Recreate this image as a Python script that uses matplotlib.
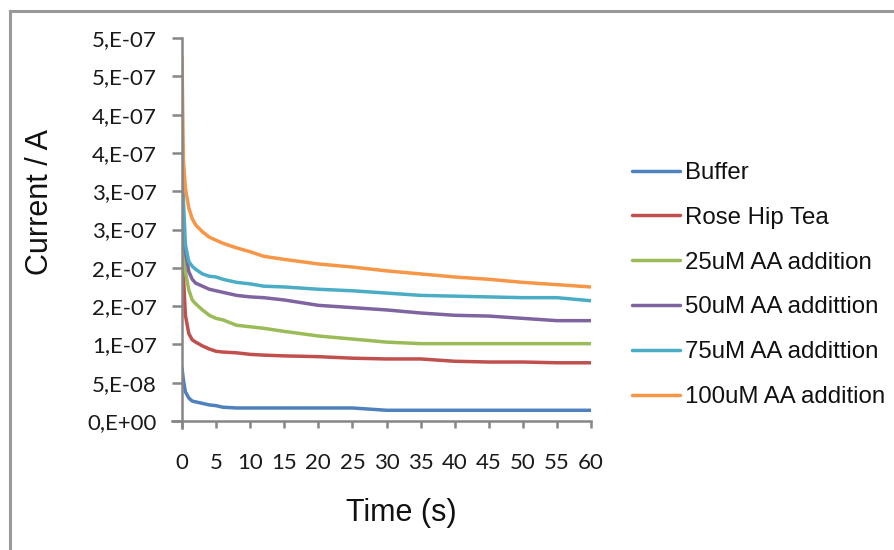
import matplotlib
matplotlib.use("Agg")
import matplotlib.pyplot as plt
from matplotlib.lines import Line2D

time_s = [0, 0.2, 0.5, 1, 1.5, 2, 3, 4, 5, 6, 8, 10, 12, 15, 20, 25, 30, 35, 40, 45, 50, 55, 60]

buffer = [6.9e-8, 5.4e-8, 3.8e-8, 3.0e-8, 2.6e-8, 2.5e-8, 2.3e-8, 2.1e-8, 2.0e-8, 1.8e-8,
          1.7e-8, 1.7e-8, 1.7e-8, 1.7e-8, 1.7e-8, 1.7e-8,
          1.4e-8, 1.4e-8, 1.4e-8, 1.4e-8, 1.4e-8, 1.4e-8, 1.4e-8]
rose_hip = [2.40e-7, 1.91e-7, 1.38e-7, 1.14e-7, 1.06e-7, 1.03e-7, 9.8e-8, 9.4e-8, 9.1e-8, 9.0e-8,
            8.9e-8, 8.7e-8, 8.6e-8, 8.5e-8, 8.4e-8, 8.2e-8, 8.1e-8, 8.1e-8, 7.8e-8, 7.7e-8,
            7.7e-8, 7.6e-8, 7.6e-8]
aa_25 = [2.95e-7, 2.30e-7, 1.95e-7, 1.71e-7, 1.58e-7, 1.53e-7, 1.45e-7, 1.38e-7, 1.34e-7, 1.32e-7,
         1.25e-7, 1.23e-7, 1.21e-7, 1.17e-7, 1.11e-7, 1.07e-7, 1.03e-7, 1.01e-7, 1.01e-7, 1.01e-7,
         1.01e-7, 1.01e-7, 1.01e-7]
aa_50 = [3.21e-7, 2.49e-7, 2.21e-7, 1.95e-7, 1.85e-7, 1.80e-7, 1.76e-7, 1.72e-7, 1.70e-7, 1.68e-7,
         1.64e-7, 1.62e-7, 1.61e-7, 1.58e-7, 1.51e-7, 1.48e-7, 1.45e-7, 1.41e-7, 1.38e-7, 1.37e-7,
         1.34e-7, 1.31e-7, 1.31e-7]
aa_75 = [3.71e-7, 2.89e-7, 2.30e-7, 2.08e-7, 2.02e-7, 1.98e-7, 1.92e-7, 1.89e-7, 1.88e-7, 1.85e-7,
         1.81e-7, 1.79e-7, 1.76e-7, 1.75e-7, 1.72e-7, 1.70e-7, 1.67e-7, 1.64e-7, 1.63e-7, 1.62e-7,
         1.61e-7, 1.61e-7, 1.57e-7]
aa_100 = [4.75e-7, 3.41e-7, 3.04e-7, 2.78e-7, 2.64e-7, 2.56e-7, 2.47e-7, 2.40e-7, 2.36e-7, 2.32e-7,
          2.26e-7, 2.21e-7, 2.15e-7, 2.11e-7, 2.05e-7, 2.01e-7, 1.96e-7, 1.92e-7, 1.88e-7, 1.85e-7,
          1.81e-7, 1.78e-7, 1.75e-7]

series_names = ["Buffer", "Rose Hip Tea", "25uM AA addition", "50uM AA addittion",
                "75uM AA addittion", "100uM AA addition"]
series_colors = ["#4F81BD", "#C0504D", "#9BBB59", "#8064A2", "#4BACC6", "#F79646"]

xticks = [0, 5, 10, 15, 20, 25, 30, 35, 40, 45, 50, 55, 60]
yticks = [0, 5e-8, 1e-7, 1.5e-7, 2e-7, 2.5e-7, 3e-7, 3.5e-7, 4e-7, 4.5e-7, 5e-7]
ytick_labels = ["0,E+00", "5,E-08", "1,E-07", "2,E-07", "2,E-07", "3,E-07",
                "3,E-07", "4,E-07", "4,E-07", "5,E-07", "5,E-07"]

W, H = 895, 550
fig = plt.figure(figsize=(W / 100, H / 100), dpi=100)
fig.patch.set_facecolor("white")

# outer chart-area border (runs off the right and bottom edges)
border = "#9a9a9a"
fig.add_artist(Line2D([10 / W, 1.0], [1 - 11 / H, 1 - 11 / H], color=border, lw=2.2,
                      transform=fig.transFigure))
fig.add_artist(Line2D([10 / W, 10 / W], [0.0, 1 - 11 / H], color=border, lw=2.2,
                      transform=fig.transFigure))

ax = fig.add_axes([182 / W, 1 - 421 / H, (591 - 182) / W, (421 - 38) / H])

all_series = [buffer, rose_hip, aa_25, aa_50, aa_75, aa_100]
for vals, name, col in zip(all_series, series_names, series_colors):
    ax.plot(time_s, vals, color=col, lw=2.5, label=name, solid_capstyle="round")

ax.set_xlim(0, 60)
ax.set_ylim(0, 5e-7)
ax.set_xticks(xticks)
ax.set_yticks(yticks)
ax.set_yticklabels(ytick_labels)

axis_grey = "#868686"
for side in ["top", "right"]:
    ax.spines[side].set_visible(False)
for side in ["left", "bottom"]:
    ax.spines[side].set_color(axis_grey)
    ax.spines[side].set_linewidth(1.8)
ax.spines["bottom"].set_bounds(-1.47, 60)
ax.spines["left"].set_bounds(-9e-9, 5e-7)

ax.tick_params(axis="y", direction="out", length=7, width=1.8, color=axis_grey,
               pad=11, labelsize=16, labelcolor="#1a1a1a")
ax.tick_params(axis="x", direction="out", length=5, width=1.8, color=axis_grey,
               pad=18, labelsize=16, labelcolor="#1a1a1a")
for lab in ax.get_xticklabels() + ax.get_yticklabels():
    lab.set_fontfamily("Lato")

fig.text(40 / W, 1 - 202 / H, "Current / A", rotation=90, ha="center", va="center",
         fontsize=22, family="Liberation Sans", color="#111111")
fig.text(401 / W, 1 - 513 / H, "Time (s)", ha="center", va="center",
         fontsize=22, family="Liberation Sans", color="#111111")

leg = ax.legend(loc="center left", bbox_to_anchor=(632 / W, 1 - 285 / H),
                bbox_transform=fig.transFigure, frameon=False, borderpad=0,
                borderaxespad=0, handlelength=2.0, handletextpad=0.2,
                labelspacing=0.95, prop={"family": "Liberation Sans", "size": 17.3})
for line in leg.get_lines():
    line.set_linewidth(2.5)
for txt in leg.get_texts():
    txt.set_color("#111111")

fig.savefig("out.png", dpi=100, facecolor="white")
